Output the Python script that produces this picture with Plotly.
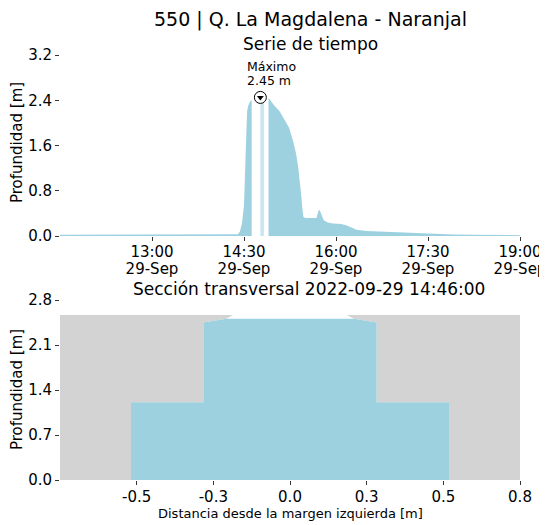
import plotly.graph_objects as go
import numpy as np

DAY = "2022-09-29 "

# ---------------- time series data ----------------
ts_times = ["11:30", "12:00", "12:30", "13:00", "13:30", "14:00", "14:20", "14:24",
            "14:26", "14:28", "14:30", "14:31", "14:32", "14:33", "14:34", "14:36", "14:37:30",
            "14:38",
            "14:54", "14:57", "15:00", "15:05", "15:10", "15:14", "15:18", "15:21", "15:23",
            "15:25", "15:26", "15:27", "15:28", "15:30", "15:35", "15:41", "15:42", "15:43",
            "15:44", "15:46", "15:48", "15:52", "15:57", "16:05", "16:10", "16:15", "16:20",
            "16:30", "16:43", "17:03", "17:15", "17:35", "17:55", "18:15", "18:40", "19:00"]
ts_depth = [0.02, 0.02, 0.02, 0.02, 0.02, 0.02, 0.02, 0.03,
            0.08, 0.22, 0.55, 1.2, 1.85, 2.2, 2.3, 2.38, 2.4,
            None,
            2.44, 2.36, 2.3, 2.2, 2.05, 1.92, 1.68, 1.45, 1.22,
            0.95, 0.72, 0.5, 0.34, 0.32, 0.32, 0.32, 0.39, 0.45,
            0.46, 0.36, 0.28, 0.24, 0.22, 0.21, 0.19, 0.15, 0.11,
            0.09, 0.08, 0.06, 0.045, 0.035, 0.025, 0.02, 0.015, 0.015]

max_band_times = ["14:46", "14:49:30"]
max_band_depth = [2.42, 2.42]

max_time = "14:46"
max_depth = 2.45

# alert level thresholds [m]
level_bounds = [0.0, 0.8, 1.5, 2.0, 3.2]
level_colors = ["#008000", "#FFFF00", "#FFA500", "#FF0000"]

ts_ticks = ["13:00", "14:30", "16:00", "17:30", "19:00"]
ts_ticklabels = ["13:00", "14:30", "16:00", "17:30", "19:00"]
ts_ticklabels_date = ["29-Sep", "29-Sep", "29-Sep", "29-Sep", "29-Sep"]

# ---------------- cross-section data ----------------
section_x = [-0.56, -0.56, -0.305, -0.305, -0.225, -0.2, 0.2, 0.225, 0.305, 0.305, 0.56, 0.56]
section_y = [0.0, 1.21, 1.21, 2.45, 2.51, 2.566, 2.566, 2.51, 2.45, 1.21, 1.21, 0.0]
ground_top = 2.566
section_xlim = [-0.81, 0.81]
water_level = 2.51
sec_tickvals = [-0.54, -0.27, 0.0, 0.27, 0.54, 0.81]
sec_ticktext = ["-0.5", "-0.3", "0.0", "0.3", "0.5", "0.8"]

FILL = "#9DD1E0"
FILL_LIGHT = "#C9E7EF"
FONT = "DejaVu Sans"
OFF = 8                      # page body margin
W, H = 547 - OFF, 525 - OFF


def px_x(p):
    return (p - OFF) / W


def px_y(p):
    return 1 - (p - OFF) / H


fig = go.Figure()

# time series fill: one filled trace per contiguous run of data
segments, cur = [], []
for t, d in zip(ts_times, ts_depth):
    if d is None:
        if cur:
            segments.append(cur)
        cur = []
    else:
        cur.append((t, d))
if cur:
    segments.append(cur)
for seg in segments:
    fig.add_trace(go.Scatter(
        x=[DAY + t for t, _ in seg], y=[d for _, d in seg], mode="lines",
        line=dict(width=0, color=FILL), fill="tozeroy", fillcolor=FILL,
        xaxis="x", yaxis="y", showlegend=False, hoverinfo="skip"))

fig.add_trace(go.Scatter(
    x=[DAY + t for t in max_band_times], y=max_band_depth, mode="lines",
    line=dict(width=0, color=FILL_LIGHT), fill="tozeroy", fillcolor=FILL_LIGHT,
    xaxis="x", yaxis="y", showlegend=False))
# max marker
fig.add_trace(go.Scatter(
    x=[DAY + max_time], y=[max_depth], mode="markers",
    marker=dict(symbol="circle", size=12, color="white", line=dict(color="black", width=1)),
    xaxis="x", yaxis="y", showlegend=False))
fig.add_trace(go.Scatter(
    x=[DAY + max_time], y=[max_depth], mode="markers",
    marker=dict(symbol="triangle-down", size=6, color="black", line=dict(width=0)),
    xaxis="x", yaxis="y", showlegend=False))
# invisible trace to activate the second (date) label row
fig.add_trace(go.Scatter(
    x=[DAY + t for t in ts_ticks], y=[0] * len(ts_ticks), mode="markers",
    marker=dict(opacity=0), xaxis="x4", yaxis="y", showlegend=False, hoverinfo="skip"))

# alert level bar
lb = np.array(level_bounds)
fig.add_trace(go.Bar(
    x=[0] * (len(lb) - 1), y=list(np.diff(lb)), base=list(lb[:-1]),
    marker=dict(color=level_colors, line=dict(width=0)), width=1,
    xaxis="x3", yaxis="y", showlegend=False))

# cross section
fig.add_trace(go.Scatter(
    x=[section_xlim[0], section_xlim[1], section_xlim[1], section_xlim[0], section_xlim[0]],
    y=[0, 0, ground_top, ground_top, 0], mode="lines", line=dict(width=0),
    fill="toself", fillcolor="#D3D3D3", xaxis="x2", yaxis="y2", showlegend=False))
fig.add_trace(go.Scatter(
    x=section_x + [section_x[0]], y=section_y + [section_y[0]], mode="lines",
    line=dict(width=0), fill="toself", fillcolor="white",
    xaxis="x2", yaxis="y2", showlegend=False))
wy = list(np.minimum(np.array(section_y), water_level))
fig.add_trace(go.Scatter(
    x=section_x + [section_x[0]], y=wy + [wy[0]], mode="lines",
    line=dict(width=0), fill="toself", fillcolor=FILL,
    xaxis="x2", yaxis="y2", showlegend=False))

axis_common = dict(showgrid=False, zeroline=False, showline=False, ticks="outside",
                   ticklen=4, tickwidth=1, tickcolor="#333333", automargin=False,
                   tickfont=dict(family=FONT, size=15, color="black"))

fig.update_layout(
    width=W, height=H, margin=dict(l=0, r=0, t=0, b=0),
    paper_bgcolor="white", plot_bgcolor="white",
    font=dict(family=FONT, color="black"),
    bargap=0,
    xaxis=dict(domain=[px_x(60), px_x(520)], anchor="y", type="date",
               range=[DAY + "11:30", DAY + "19:00"],
               tickvals=[DAY + t for t in ts_ticks], ticktext=ts_ticklabels,
               ticklabelstandoff=-2, **axis_common),
    xaxis4=dict(domain=[px_x(60), px_x(520)], anchor="y", overlaying="x", type="date",
                range=[DAY + "11:30", DAY + "19:00"], showgrid=False, zeroline=False,
                showline=False, ticks="outside", ticklen=4, tickcolor="rgba(0,0,0,0)",
                automargin=False, side="bottom",
                tickvals=[DAY + t for t in ts_ticks], ticktext=ts_ticklabels_date,
                ticklabelstandoff=15,
                tickfont=dict(family=FONT, size=15, color="black")),
    yaxis=dict(domain=[px_y(236), px_y(55)], anchor="x", range=[0, 3.2],
               tickvals=[0, 0.8, 1.6, 2.4, 3.2], ticktext=["0.0", "0.8", "1.6", "2.4", "3.2"],
               **axis_common),
    xaxis3=dict(domain=[px_x(543), 1.0], anchor="y", range=[-0.5, 0.5],
                visible=False, fixedrange=True),
    xaxis2=dict(domain=[px_x(60), px_x(520)], anchor="y2", range=section_xlim,
                tickvals=sec_tickvals, ticktext=sec_ticktext, ticklabelstandoff=-1,
                **axis_common),
    yaxis2=dict(domain=[px_y(480), px_y(300)], anchor="x2", range=[0, 2.8],
                tickvals=[0, 0.7, 1.4, 2.1, 2.8], ticktext=["0.0", "0.7", "1.4", "2.1", "2.8"],
                **axis_common),
)

ann = []
ann.append(dict(text="550 | Q. La Magdalena - Naranjal", x=px_x(310), y=px_y(19),
                xref="paper", yref="paper", showarrow=False, xanchor="center", yanchor="middle",
                font=dict(family=FONT, size=19)))
ann.append(dict(text="Serie de tiempo", x=px_x(310), y=px_y(44),
                xref="paper", yref="paper", showarrow=False, xanchor="center", yanchor="middle",
                font=dict(family=FONT, size=17)))
ann.append(dict(text="Sección transversal 2022-09-29 14:46:00", x=px_x(309), y=px_y(289),
                xref="paper", yref="paper", showarrow=False, xanchor="center", yanchor="middle",
                font=dict(family=FONT, size=17)))
ann.append(dict(text="Profundidad [m]", x=px_x(17), y=px_y(143), textangle=-90,
                xref="paper", yref="paper", showarrow=False, xanchor="center", yanchor="middle",
                font=dict(family=FONT, size=15)))
ann.append(dict(text="Profundidad [m]", x=px_x(17), y=px_y(390), textangle=-90,
                xref="paper", yref="paper", showarrow=False, xanchor="center", yanchor="middle",
                font=dict(family=FONT, size=15)))
ann.append(dict(text="Distancia desde la margen izquierda [m]", x=px_x(290), y=px_y(513),
                xref="paper", yref="paper", showarrow=False, xanchor="center", yanchor="middle",
                font=dict(family=FONT, size=13)))
ann.append(dict(text="Máximo", x=DAY + max_time, y=max_depth,
                xref="x", yref="y", showarrow=False, xanchor="left", yanchor="middle",
                xshift=-15, yshift=31, font=dict(family=FONT, size=12.5)))
ann.append(dict(text="%.2f m" % max_depth, x=DAY + max_time, y=max_depth,
                xref="x", yref="y", showarrow=False, xanchor="left", yanchor="middle",
                xshift=-15, yshift=17, font=dict(family=FONT, size=12.5)))
fig.update_layout(annotations=ann)

fig.write_html("out.html")
